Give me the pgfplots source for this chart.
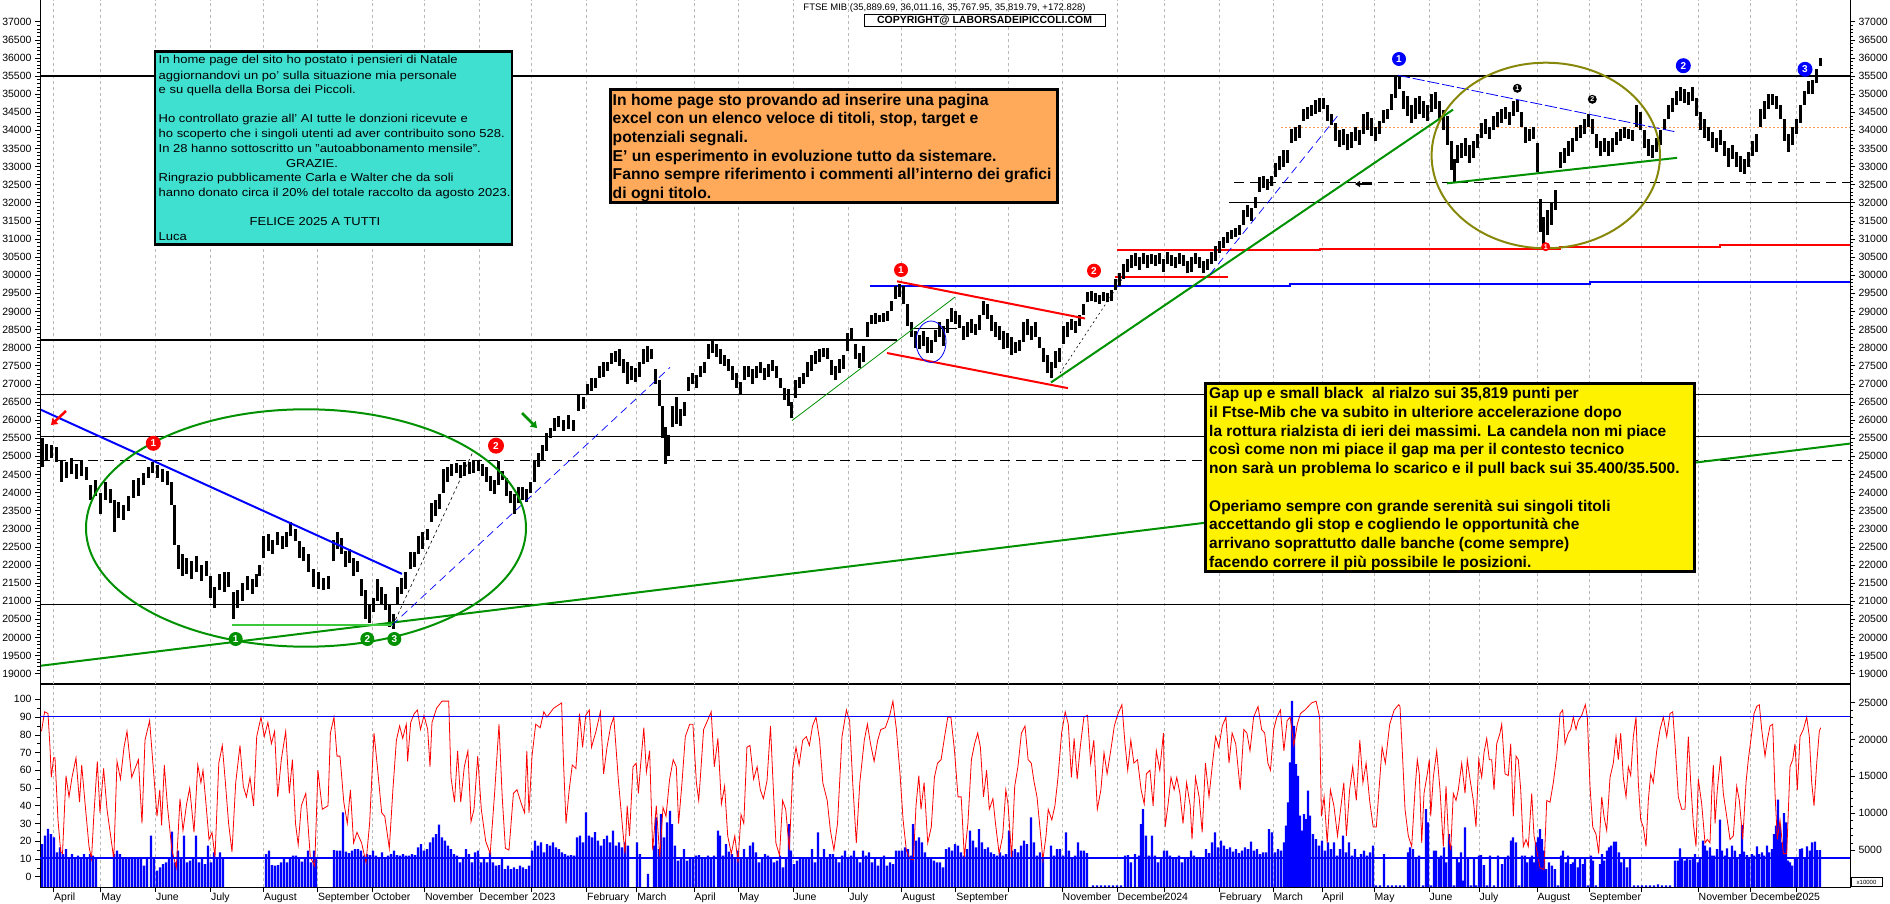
\documentclass[border=0pt]{standalone}
\usepackage{graphicx}
\usepackage{pgfplots}
\pgfplotsset{compat=1.18}
\usepackage{pgfplotstable}
\usetikzlibrary{arrows.meta}
\usepackage{fontspec}
\setmainfont{Liberation Sans}
\definecolor{cyanbox}{RGB}{64,224,208}
\definecolor{orangebox}{RGB}{255,170,90}
\definecolor{gline}{RGB}{0,145,0}
\definecolor{lgline}{RGB}{60,200,60}
\definecolor{olivec}{RGB}{135,135,10}
\definecolor{gridc}{RGB}{185,185,185}
\definecolor{orgdot}{RGB}{245,160,90}

\pgfplotstableread{
x lo hi
42 24700 25500
46 24900 25350
51 24950 25300
56 24850 25250
61 24300 24900
66 24400 24850
71 24500 24950
76 24380 24800
81 24450 24900
86 24350 24700
90 23800 24200
95 23900 24350
100 23400 24000
105 23800 24300
110 23700 24100
114 22900 23800
118 23300 23750
123 23250 23650
128 23500 23900
133 23850 24350
138 23900 24400
143 24200 24550
148 24400 24700
152 24550 24850
157 24400 24750
162 24300 24650
167 24200 24600
171 23650 24300
174 22550 23650
178 21900 22550
182 21700 22300
186 21750 22200
191 21600 22100
196 21800 22250
201 21550 22000
206 21700 22100
210 21100 21700
214 20800 21400
219 21300 21750
224 21250 21800
228 21400 21800
233 20500 21250
237 20800 21300
242 21000 21500
247 21300 21700
252 21200 21600
256 21400 21750
259 21700 22000
263 22200 22800
268 22400 22850
272 22300 22700
277 22550 22900
282 22450 22800
286 22500 22900
290 22800 23180
295 22650 23000
299 22200 22650
303 22100 22500
308 21800 22300
313 21400 21900
318 21350 21800
323 21300 21650
328 21350 21700
333 22100 22700
337 22450 22900
341 22300 22750
345 21950 22400
349 22050 22450
353 21700 22200
357 21800 22100
361 21150 21600
365 20500 21300
369 20400 20900
373 20700 21100
377 21000 21600
381 20900 21400
385 20750 21200
389 20300 20900
393 20230 20650
397 20900 21400
401 21200 21650
405 21350 21800
410 21900 22350
414 21950 22350
418 22300 22800
422 22450 22900
427 22700 23000
431 23200 23700
435 23350 23800
439 23550 23950
443 24000 24650
447 24300 24700
451 24450 24800
456 24550 24820
460 24400 24750
464 24450 24850
469 24500 24830
473 24550 24880
478 24600 24900
482 24450 24800
486 24300 24700
490 24050 24450
494 23950 24350
498 24200 24880
502 24350 24600
506 23900 24400
510 23700 24050
514 23420 23950
518 23700 24150
522 23800 24150
526 23750 24100
530 24000 24300
534 24300 24900
538 24700 25100
542 24900 25300
546 25150 25650
550 25500 25780
554 25700 26050
558 25800 26100
563 25700 26000
568 25750 26150
573 25700 26000
578 26250 26700
583 26300 26650
587 26700 27000
591 26800 27150
595 26900 27150
599 27150 27500
603 27200 27600
607 27350 27600
611 27550 27850
615 27600 27900
619 27500 27950
623 27300 27700
627 27000 27600
631 27100 27500
635 27050 27450
639 27200 27600
643 27550 27950
647 27600 28050
651 27700 27950
655 27000 27400
659 26400 27100
662 25500 26400
665 24800 25800
668 25000 25600
672 25800 26400
676 25900 26650
680 25850 26300
684 26100 26500
688 26800 27200
692 27000 27300
696 26900 27250
700 27200 27500
704 27300 27600
708 27700 28100
712 27850 28180
716 27750 28100
720 27550 27950
724 27500 27800
728 27350 27700
732 27100 27500
736 26900 27300
740 26700 27050
744 27100 27500
748 27200 27500
752 27000 27400
756 27150 27500
760 27300 27600
764 27100 27450
768 27200 27550
772 27350 27650
776 27150 27500
780 26900 27150
784 26550 26900
788 26400 26850
791 26050 26500
795 26600 27100
799 26900 27200
803 27000 27300
807 27200 27600
811 27350 27800
815 27550 27900
819 27600 27950
823 27750 28000
827 27700 28000
831 27250 27650
835 27100 27500
839 27300 27700
843 27400 27800
847 27900 28400
851 28200 28550
855 27700 28100
859 27450 27850
863 27600 28050
867 28300 28700
871 28650 28900
875 28650 28950
879 28700 28900
883 28700 28950
887 28750 29000
891 29000 29300
895 29350 29700
899 29400 29750
903 29200 29700
907 28600 29200
911 28300 28700
915 28000 28450
919 27950 28350
923 28050 28450
927 27850 28300
931 27860 28200
935 28150 28500
939 28300 28700
943 28050 28600
947 28400 28800
951 28700 29100
955 28650 29000
959 28550 28900
963 28200 28600
967 28300 28700
971 28400 28800
975 28350 28650
979 28500 28900
983 28900 29280
987 28800 29200
991 28450 28900
995 28300 28700
999 28200 28600
1003 27950 28450
1007 28000 28400
1011 27800 28300
1015 27850 28150
1019 27900 28200
1023 28150 28700
1027 28350 28800
1031 28200 28600
1035 28300 28700
1039 28000 28300
1043 27600 28000
1047 27300 27800
1051 27160 27600
1055 27450 27900
1059 27600 28000
1063 28100 28600
1067 28300 28700
1071 28500 28800
1075 28400 28750
1079 28600 28900
1083 28900 29200
1087 29250 29550
1091 29300 29560
1095 29250 29500
1099 29200 29450
1103 29300 29550
1107 29250 29500
1111 29300 29600
1115 29600 29900
1119 29700 30050
1123 29900 30300
1127 30100 30450
1131 30200 30550
1135 30250 30600
1139 30150 30500
1143 30300 30600
1147 30200 30550
1151 30300 30580
1155 30250 30550
1159 30300 30620
1163 30100 30450
1167 30300 30650
1171 30250 30550
1175 30200 30500
1179 30300 30600
1183 30250 30550
1187 30050 30400
1191 30100 30500
1195 30300 30600
1199 30200 30500
1203 30050 30400
1207 30150 30450
1211 30300 30650
1215 30400 30800
1219 30600 30950
1223 30750 31050
1227 30900 31200
1231 31000 31250
1235 31050 31300
1239 31100 31400
1243 31400 31800
1247 31600 31950
1251 31500 31850
1255 31850 32150
1259 32300 32700
1263 32400 32750
1267 32350 32650
1271 32450 32750
1275 32700 33100
1279 32900 33300
1283 33000 33450
1287 33100 33450
1291 33650 34050
1295 33700 34100
1299 33800 34150
1303 34250 34600
1307 34300 34650
1311 34400 34700
1315 34450 34850
1319 34500 34880
1323 34600 34880
1327 34250 34700
1331 34150 34450
1335 33700 34200
1339 33550 34000
1343 33600 34050
1347 33450 33900
1351 33500 33950
1355 33700 34100
1359 33600 34000
1363 33900 34450
1367 34000 34500
1371 33850 34350
1375 33700 34100
1379 33900 34250
1383 34200 34550
1387 34300 34600
1391 34550 35000
1395 34900 35480
1399 35150 35500
1403 34600 35100
1407 34400 34950
1411 34200 34700
1415 34300 34900
1419 34450 34950
1423 34350 34800
1427 34250 34700
1431 34500 35000
1435 34600 35050
1439 34300 34800
1443 34000 34550
1447 33600 34400
1451 32900 33700
1454 32550 33200
1457 33100 33600
1461 33250 33650
1465 33300 33800
1469 33100 33600
1473 33250 33700
1477 33500 33900
1481 33800 34200
1485 33900 34300
1489 33750 34100
1493 34000 34400
1497 34100 34500
1501 34200 34600
1505 34300 34650
1509 34150 34500
1513 34400 34800
1517 34500 34850
1521 34100 34500
1525 33650 34100
1529 33700 34050
1533 33750 34100
1537 32850 33650
1540 31200 32100
1543 30760 31600
1547 31100 31800
1551 31400 32000
1555 31800 32350
1560 32950 33400
1564 33100 33500
1568 33300 33700
1572 33400 33800
1576 33700 34100
1580 33800 34150
1584 33900 34300
1588 34100 34460
1592 33900 34300
1596 33500 33900
1600 33300 33700
1604 33400 33800
1608 33300 33700
1612 33400 33800
1616 33600 33950
1620 33700 34050
1624 33800 34100
1628 33750 34050
1632 33700 34000
1636 34100 34700
1640 34000 34500
1644 33500 34000
1648 33300 33750
1652 33250 33600
1656 33400 33800
1660 33600 34000
1664 34000 34300
1668 34300 34700
1672 34500 34900
1676 34700 35100
1680 34800 35200
1684 34750 35150
1688 34700 35050
1692 34800 35200
1696 34400 34900
1700 34000 34500
1704 33800 34300
1708 33700 34100
1712 33500 33950
1716 33400 33800
1720 33600 34000
1724 33300 33700
1728 33000 33500
1732 33200 33600
1736 33000 33400
1740 32850 33300
1744 32800 33200
1748 33000 33400
1752 33300 33700
1756 33400 33900
1760 34100 34600
1764 34300 34800
1768 34600 35000
1772 34700 35000
1776 34600 34950
1780 34300 34700
1784 33700 34300
1788 33400 33900
1792 33600 34100
1796 33900 34300
1800 34200 34700
1804 34700 35100
1808 35000 35350
1812 35000 35400
1816 35300 35700
1820 35770 36010
}\price

\pgfplotstableread{
x v
41.5 82
44.6 93
48 92
50 73
51.3 56
53.6 67
55 67
58 32
60.7 14
62.5 13
66 57
69 45
72 56
76 67
79.5 42
81.7 63
84.8 43
89 17
91.5 10
93.8 34
97.3 65
100 36
103.6 61
107 38
113.8 10
117 65
120.5 55
124 73
127 82
131.7 56
138.4 66
142 30
145 77
149.6 88
154 56
157 34
159.8 49
161.6 29
164.3 63
167.4 40
171.9 15
176.3 5
180 44
183 26
186.6 41
189.7 50
194 25
197.8 63
200.9 53
203 60
206 41
209 21
212 25
215 11
218.8 64
222.3 74
225.4 53
228.6 30
232 14
235.7 53
240 74
243.3 51
246.4 45
250 56
253.6 40
256.7 79
261 90
264.3 79
267.9 87
271.4 75
274.6 82
277.7 45
281.3 66
285.7 82
289.3 47
292.4 66
295.5 30
298.2 18
301.3 40
305.8 47
310.3 11
314.7 6
317.9 60
322.3 38
328 40
330.4 81
334 90
337 68
340 68
343.8 42
347.3 30
350.4 49
353.6 19
357 25
361.6 19
366 8
369.6 30
374 81
377.2 63
381.7 36
384.8 34
389.3 16
392.9 49
396.4 77
399.6 85
402.7 78
406.3 86
407.6 65
410.7 87
414.3 92
417.4 94
420.5 83
424 91
427.7 83
430 62
432 87
436.6 95
442 99
448.7 99
451 56
454.5 42
457.6 71
460.7 42
464.3 62
467.9 71
471 31
474 38
477.7 68
481.3 38
485.7 20
490.2 13
494.6 47
499 86
502.2 45
505.4 16
509 15
513.4 47
517 49
521.4 41
524.6 36
526.8 71
529 36
532 68
535.7 86
540.2 84
543.8 93
546.9 90
553.6 95
561.6 98
563.4 66
566 30
569.2 49
572.3 63
575.9 61
579.5 92
582.6 73
585.7 91
589.3 94
591.5 73
596 82
600.4 93
603.6 58
607 73
610.7 85
613.8 90
618.3 55
622.8 26
625 13
627.2 40
629.5 23
633 62
636.2 64
638.4 47
640.6 63
643.8 84
646.4 59
649.6 71
652.7 15
656.3 40
659.8 11
663 39
666 34
669.6 55
673.2 66
676.3 62
678.6 30
682 53
685.3 79
689.7 86
692.9 86
696.4 53
698.7 43
700 53
703.6 83
706.7 87
711.2 93
714.3 62
717.9 78
721.4 41
724.6 51
727.7 23
731.3 13
734.8 23
738 8
741 35
743.8 30
746.9 73
750 74
753.6 55
757.1 62
760.3 49
763.4 44
767 54
770.5 85
772.8 56
775.9 19
779.5 12
782.6 43
785.7 38
789.3 15
792.9 62
796 73
799.1 63
802.7 77
806.3 79
809.4 74
812.5 85
816 90
819.6 77
822.8 53
827.2 43
830.4 26
833.9 15
837.5 30
842 79
846.4 94
849.6 88
852.7 53
856.3 19
859.8 53
864.3 77
867.4 86
870.5 75
874.1 65
877.7 77
880.8 83
885.3 84
889.7 91
892.9 99
896.4 83
900 58
903.1 32
906.3 15
909.8 10
913.4 9.5
916 40
918.8 57
921 38
924.1 53
927.7 19
931.3 28
934.4 56
937.5 64
941.1 66
944.6 79
947.8 90
950.9 90
954.5 71
958 45
961.2 45
964.3 11
967.9 30
971.4 66
974.6 75
977.7 81
980.4 73
983.5 45
986.6 60
989.3 38
992.9 44
995.5 30
999.1 13
1002.7 23
1005.8 49
1008 41
1011.6 11
1014.7 51
1017.9 62
1021.4 81
1025 85
1028.1 66
1031.3 64
1033.9 54
1037 45
1040.2 26
1042.9 9.5
1046 23
1048.2 38
1051.8 32
1054.9 40
1058 56
1061.6 81
1065.2 93
1068.3 86
1071.4 56
1074.1 78
1077.2 55
1080.4 74
1083.9 90
1087.5 91
1090.6 64
1093.8 77
1097.3 38
1100.9 49
1104 70
1107.1 58
1110.7 71
1114.3 85
1117.4 91
1121.9 97
1125 75
1127.7 60
1130.8 77
1133.9 64
1137.5 66
1141.1 49
1144.2 41
1146.4 58
1150 60
1153.1 40
1156.3 71
1159.8 60
1163.4 81
1165.2 28
1167.9 40
1171 56
1174.1 49
1176.8 56
1179.9 47
1183 30
1186.6 53
1190.2 40
1192 21
1195.5 56
1199.1 45
1202.2 25
1205.4 64
1209 45
1212.5 64
1215.6 79
1218.8 73
1222.3 85
1225.9 90
1229 64
1232.1 81
1235.7 75
1240.2 49
1243.8 83
1246.9 81
1250 71
1253.6 90
1258 96
1261.6 83
1264.7 81
1267.9 64
1270.5 60
1273.7 83
1276.8 90
1280.4 94
1283.9 71
1287.1 88
1290.2 90
1293.8 74
1297.3 86
1300.4 92
1304.9 94
1311.6 98
1316.1 99
1319.6 90
1321.4 34
1324.1 45
1327.2 19
1330.4 49
1333.9 40
1337.5 23
1340.6 38
1343.8 53
1346.4 23
1349.6 49
1352.7 62
1356.3 43
1359.8 77
1362.9 53
1366.1 64
1369.6 43
1373.2 28
1376.3 28
1379.5 53
1382.1 73
1385.3 64
1389.7 86
1394.2 94
1398.7 97
1400 96
1402.7 66
1405 38
1408.3 23
1411.7 17
1415 49
1417.3 66
1419.3 58
1421.7 19
1424 47
1427.3 58
1429.3 66
1430.7 34
1433.3 56
1436.7 71
1440 49
1443.3 17
1446 51
1448.3 24
1450.7 15
1453.3 47
1456 43
1458.3 49
1461.7 64
1465 47
1467.3 66
1470 55
1473.3 43
1476 28
1478.7 66
1481.7 56
1484 70
1486.7 78
1489.3 66
1491.7 66
1494 49
1496.7 75
1500 81
1501.7 86
1505 58
1508.3 57
1510.7 75
1513.3 34
1516 68
1518.3 66
1520.7 49
1523.3 17
1526 21
1528.3 17
1531.7 47
1534 23
1536.7 15
1540 5
1544 4
1546.7 43
1550 42
1553.3 53
1556.7 68
1560 92
1562.7 94
1565 75
1568.3 81
1570.7 83
1573.3 90
1576 83
1578.3 88
1581.7 91
1585.3 97
1587.3 90
1590 51
1592.7 28
1596 24
1598.7 13
1601.7 45
1604 34
1606.7 26
1610 56
1613.3 64
1616 79
1618.3 66
1620.7 81
1623.3 56
1626 45
1628.3 62
1630.7 57
1633.3 79
1636 90
1638.3 53
1640.7 32
1643.3 28
1646 17
1648.3 43
1650.7 58
1653.3 53
1656.7 71
1660 83
1663.3 90
1666.7 79
1670 92
1672.7 93
1675 75
1678.3 45
1681.7 38
1685 38
1688.3 79
1690.7 53
1693.3 30
1696 17
1698.3 55
1701.7 41
1705 19
1707.3 21
1710 19
1711.7 47
1713.3 63
1715 30
1717.3 49
1720.7 68
1723.3 47
1726.7 34
1730 21
1733.3 23
1736.7 51
1739.3 43
1742.7 21
1746 53
1748.3 66
1751.7 81
1754 92
1756.7 96
1759.3 97
1761.7 83
1765 68
1767.3 77
1770 85
1772.7 86
1775 47
1777.3 21
1780 32
1783.3 13
1786.7 13
1790 62
1792.7 66
1795 75
1797.3 49
1800 79
1803.3 83
1806.7 90
1809.3 79
1811.7 53
1814 40
1816.7 64
1819.3 82
1820.7 84
}\rsi

\pgfplotstableread{
x v
42 5850
45 7000
48 7900
51 7200
54 6750
57 4720
60 5400
63 4500
66 5170
69 4050
72 4500
75 3820
78 4270
81 3820
84 4500
87 3820
90 4500
93 4270
96 3820
114 4500
117 4950
120 4500
123 3820
126 4050
129 3820
132 4050
135 3820
138 4050
141 3820
144 2920
147 3820
151 7000
154 3820
157 2250
160 2700
163 3150
166 3370
169 3820
172 7520
175 3370
178 4950
181 3820
184 7000
187 3370
190 3600
193 3820
196 7000
199 3370
202 3820
205 3150
208 5620
211 3370
214 4720
217 4050
220 4720
223 3820
266 4500
269 4950
272 3010
275 2920
278 3010
281 3370
284 3820
287 3370
290 4050
293 4270
296 4270
299 3820
302 3460
305 3820
308 4950
311 3370
314 4950
316 4050
334 5040
337 4950
340 4950
343 10130
346 4810
349 4630
352 4950
355 5170
358 5170
361 4950
364 4270
367 4500
370 4360
373 4950
376 4270
379 4050
382 4720
385 3820
388 4270
391 4500
394 4950
397 4360
400 4270
403 4500
406 4270
409 4270
412 4500
415 4360
418 5400
421 5850
424 4950
427 5170
430 6070
433 6750
436 7200
439 8460
442 6750
445 6300
448 5620
451 5170
454 4500
457 4270
460 3370
463 4050
466 5170
469 4500
472 3370
475 4720
478 4950
481 3370
484 4050
487 3370
490 4720
493 3370
496 2920
499 3010
502 3820
505 2470
508 2920
511 2470
514 2700
517 2470
520 2920
523 2700
526 2470
529 2920
532 4950
535 6300
538 5620
541 6070
544 4720
547 5850
550 5620
553 6070
556 5400
559 5170
562 4720
565 4500
568 4270
571 4360
574 4270
577 6750
580 7000
583 6070
586 10130
589 7000
592 6750
595 7450
598 6300
601 5620
604 6520
607 7000
610 6070
613 7650
616 5620
619 6070
622 5400
625 6070
628 5620
637 6070
640 4500
648 1800
654 5620
656 9450
659 5170
661 9900
664 6750
667 8780
670 10350
672 8550
675 5620
678 3600
681 4050
684 5170
687 3600
690 4050
693 3910
696 4270
699 4360
702 3820
705 4050
708 4270
711 4050
714 4270
718 7650
720 7000
723 4270
726 5850
729 4810
732 4500
735 3820
738 4950
741 4050
744 5170
747 3820
750 5620
753 6070
756 4720
759 3370
762 3820
765 4500
768 4270
771 4050
774 3370
777 3600
780 4270
783 2700
786 3820
789 8550
791 4950
794 3150
797 3600
800 3820
803 4050
806 3910
809 4050
812 5170
815 3370
818 7430
821 4050
824 5170
827 4050
830 4500
833 4500
836 3820
839 3370
842 4270
845 4950
848 3820
851 4270
854 4950
857 3820
860 3370
863 4950
866 4270
869 4720
872 3370
875 3820
878 2920
881 3820
884 4270
887 2920
890 3370
893 3150
896 4950
899 4950
902 4950
905 5400
908 5170
911 4270
913 8550
916 6300
919 6750
922 6070
925 4720
928 3820
931 3820
934 3600
937 3370
940 3370
943 2700
946 5170
949 5400
952 4950
955 5850
958 5620
961 4720
964 4270
967 5170
970 7650
973 6300
976 5400
979 7880
982 6070
985 5170
988 5400
991 4720
994 4500
997 4270
1000 4720
1003 4270
1006 4500
1009 7650
1012 4950
1015 5170
1018 4720
1021 5620
1024 6300
1027 5850
1031 9450
1034 6070
1037 4270
1040 4720
1043 3820
1051 5620
1054 4270
1057 5170
1060 5170
1063 4270
1066 7430
1069 4950
1072 4050
1075 4270
1078 6070
1081 4950
1084 4950
1087 4630
1093 250
1097 250
1101 250
1105 250
1109 250
1113 250
1117 250
1121 250
1125 4270
1128 4360
1131 3370
1135 4500
1139 4270
1141 8550
1143 10580
1146 7000
1149 4270
1152 7000
1155 4270
1158 3370
1161 3820
1164 4950
1167 4950
1170 4270
1173 4050
1176 3820
1179 4270
1182 3370
1185 3820
1188 4050
1191 4950
1194 4270
1197 3820
1200 4050
1203 3820
1206 5170
1209 4630
1212 6070
1215 7430
1218 5400
1221 6300
1224 5620
1227 5170
1230 5400
1233 4810
1236 5170
1239 4630
1242 4950
1245 5400
1248 5170
1251 6160
1254 4950
1257 5170
1260 4500
1263 4720
1266 4720
1269 7880
1272 7430
1275 4720
1278 5170
1281 4950
1284 6070
1286 8330
1288 11480
1290 16880
1292 25220
1294 21840
1296 16660
1298 15080
1300 9680
1302 7650
1304 9900
1306 9220
1308 13060
1310 9680
1313 7200
1316 6520
1319 5620
1322 6300
1325 4950
1328 6070
1331 5170
1334 6070
1337 4270
1340 5170
1343 7000
1346 4720
1349 6070
1352 4270
1355 5170
1358 3820
1361 4500
1364 4950
1367 4270
1370 4720
1373 5620
1376 250
1380 250
1384 4500
1388 250
1392 250
1396 250
1400 250
1404 250
1408 4720
1410 5400
1413 5170
1416 3820
1419 4270
1423 250
1426 10580
1428 8780
1431 250
1434 4950
1436 4950
1439 3820
1441 4270
1444 5400
1446 3370
1449 7200
1451 5620
1454 250
1457 3820
1459 3370
1461 4720
1463 900
1465 8110
1468 4050
1471 250
1474 4050
1476 250
1479 4270
1481 4360
1484 3010
1487 250
1490 4270
1494 250
1498 4270
1502 3150
1505 4050
1508 4270
1511 6300
1513 6750
1516 6070
1519 250
1522 4270
1525 4270
1527 3370
1530 4050
1532 4270
1534 3370
1536 6070
1538 6750
1540 7880
1542 6520
1544 4950
1546 2470
1549 3370
1552 2920
1555 2470
1558 250
1561 4270
1563 4950
1566 3370
1568 4270
1571 3150
1573 3370
1575 4050
1578 2700
1580 4050
1583 3150
1585 3820
1588 250
1591 4270
1593 3600
1596 250
1600 3150
1602 4500
1604 3600
1607 4950
1609 5400
1611 5620
1614 6160
1616 6160
1619 4720
1621 3370
1624 3820
1627 2700
1630 4050
1634 250
1638 250
1642 250
1646 250
1650 250
1654 250
1658 400
1662 250
1666 250
1670 250
1675 3600
1678 3600
1680 5260
1682 3820
1685 3600
1687 3820
1690 3730
1693 4050
1695 4500
1698 3370
1700 3820
1703 6300
1705 5620
1707 4950
1710 5400
1712 4270
1714 4270
1717 5170
1720 9140
1722 4950
1725 4270
1727 5260
1730 3820
1732 5620
1735 4950
1737 3820
1740 4500
1742 8420
1744 4810
1747 4360
1749 4050
1752 4500
1754 4270
1757 5530
1759 4500
1762 4720
1764 4270
1767 5620
1769 4720
1772 5170
1774 7200
1776 8330
1778 11840
1780 8550
1782 6070
1784 10040
1786 8780
1788 3600
1790 3370
1792 2920
1795 3820
1797 3910
1800 5170
1802 5260
1805 3820
1807 5530
1810 4950
1812 6070
1815 6160
1817 5040
1820 5040
}\vol

\pgfplotsset{
  every axis/.append style={
    scale only axis, anchor=south west,
    xmin=40, xmax=1850,
    tick align=outside,
    major tick length=5pt, minor tick length=3pt,
    tick style={black, line width=0.6pt},
    tick label style={font=\fontsize{10.5}{12}\selectfont},
    scaled x ticks=false, scaled y ticks=false,
    /pgf/number format/assume math mode=true,
    /pgf/number format/1000 sep={},
  },
}
\def\monthticks{53.5,100.7,155.3,210.3,263.3,317.3,372.3,424.3,479,531.5,586.5,636.7,694,738.7,793,848.7,901.7,955.7,1008,1062,1117,1164,1219,1273,1322,1374,1429,1479,1537,1589,1641,1698,1750,1796}

\newcommand\cl[3]{\node[anchor=base west,inner sep=0pt,font=\fontsize{11.5}{13}\selectfont] at (#1,{903-#2}) {\scalebox{1.13}[1]{#3}};}
\newcommand\ol[2]{\node[anchor=base west,inner sep=0pt,font=\bfseries\fontsize{15.7}{17}\selectfont] at (612.5,{903-#1}) {#2};}
\newcommand\yl[2]{\node[anchor=base west,inner sep=0pt,font=\bfseries\fontsize{15.5}{17}\selectfont] at (1209,{903-#1}) {#2};}
\newcommand\mkn[6]{\node[circle,fill=#3,inner sep=0pt,minimum size=#4pt,text=white,font=\bfseries\fontsize{#5}{#5}\selectfont] at (#1,{903-#2}) {#6};}

\begin{document}
\begin{tikzpicture}

% ---------- lower panel: volume (right axis) ----------
\begin{axis}[at={(40pt,15.7pt)}, width=1810pt, height=203pt,
  ymin=0, ymax=27450,
  axis line style={line width=1pt},
  xtick/.expanded={\monthticks},
  xtick pos=bottom,
  xticklabels={April,May,June,July,August,September,October,November,December,2023,February,March,April,May,June,July,August,September,,November,December,2024,February,March,April,May,June,July,August,September,,November,December,2025},
  xticklabel style={anchor=base west, inner sep=0pt, xshift=0.5pt, yshift=-8pt},
  minor x tick num=9,
  xmajorgrids, major x grid style={gridc, dash pattern=on 3pt off 3pt, line width=0.7pt},
  ytick={5000,10000,15000,20000,25000}, minor y tick num=4,
  ytick pos=right, yticklabel pos=right,
]
\addplot[ybar, bar width=2.2, fill=blue, draw=none, forget plot] table[x=x,y=v] {\vol};
\end{axis}

% ---------- lower panel: oscillator (left axis) ----------
\begin{axis}[at={(40pt,15.7pt)}, width=1810pt, height=203pt,
  ymin=-6, ymax=108.5,
  axis line style={line width=1pt},
  xtick=\empty,
  ytick={0,10,...,100}, minor y tick num=1,
  ytick pos=left, yticklabel pos=left,
]
\addplot[red, line width=0.8pt, mark=none] table[x=x,y=v] {\rsi};
\addplot[blue, line width=1.3pt] coordinates {(40,90.5)(1850,90.5)};
\addplot[blue, line width=1.3pt] coordinates {(40,10.5)(1850,10.5)};
\end{axis}
\draw[black, line width=1.8pt] (40pt,218.7pt) -- (1850pt,218.7pt);

% ---------- main price panel ----------
\begin{axis}[at={(40pt,218.7pt)}, width=1810pt, height=684.3pt,
  ymin=18706, ymax=37599,
  separate axis lines,
  x axis line style={draw=none},
  y axis line style={line width=1pt},
  xtick/.expanded={\monthticks}, xticklabels={}, xtick style={draw=none},
  xmajorgrids, major x grid style={gridc, dash pattern=on 3pt off 3pt, line width=0.7pt},
  ytick={19000,19500,...,37000}, minor y tick num=4,
  ytick pos=left, yticklabel pos=left,
]
% horizontal levels
\addplot[black, line width=2pt] coordinates {(40,35500)(1850,35500)};
\addplot[black, line width=2pt] coordinates {(40,28200)(897,28200)};
\addplot[black, line width=0.9pt] coordinates {(40,26700)(1850,26700)};
\addplot[black, line width=0.9pt] coordinates {(40,25550)(1850,25550)};
\addplot[black, line width=0.9pt, dash pattern=on 10pt off 6pt] coordinates {(40,24900)(1850,24900)};
\addplot[black, line width=0.9pt] coordinates {(40,20900)(1850,20900)};
\addplot[black, line width=0.9pt, dash pattern=on 10pt off 6pt] coordinates {(1234,32550)(1850,32550)};
\addplot[black, line width=0.9pt] coordinates {(1229,32000)(1850,32000)};
\addplot[red, line width=2pt] coordinates {(1117,30690)(1320,30690)(1320,30735)(1560,30735)(1560,30790)(1720,30790)(1720,30840)(1850,30840)};
\addplot[red, line width=2pt] coordinates {(1115,29960)(1228,29960)};
\addplot[blue, line width=2pt] coordinates {(870,29700)(1290,29700)(1290,29765)(1590,29765)(1590,29800)(1850,29800)};
\addplot[orgdot, line width=0.8pt, dash pattern=on 2pt off 2pt] coordinates {(1281,34073)(1850,34073)};
\addplot[black, line width=0.8pt] coordinates {(910,28527)(957,28527)};
% price bars (low to high)
\addplot[draw=none, mark=none, forget plot,
  error bars/.cd, y dir=plus, y explicit, error mark=none,
  error bar style={line width=3pt, draw=black, solid}]
  table[x=x, y=lo, y error expr=\thisrow{hi}-\thisrow{lo}] {\price};
% trend lines
\addplot[blue, line width=2pt] coordinates {(40,26297)(402,21754)};
\addplot[gline, line width=2pt] coordinates {(40,19216)(1850,25352)};
\addplot[lgline, line width=1.6pt] coordinates {(232,20340)(393,20340)};
\addplot[blue, line width=0.7pt, dash pattern=on 8pt off 5pt] coordinates {(392,20340)(670,27456)};
\addplot[black, line width=0.6pt, dash pattern=on 3pt off 3pt] coordinates {(393,20340)(473,25128)};
\addplot[gline, line width=0.8pt] coordinates {(792,25987)(955,29397)};
\addplot[red, line width=2pt] coordinates {(897,29832)(1085,28806)};
\addplot[red, line width=2pt] coordinates {(887,27852)(1068,26882)};
\addplot[black, line width=0.6pt, dash pattern=on 2pt off 3pt] coordinates {(1060,27298)(1123,29931)};
\addplot[gline, line width=2pt] coordinates {(1051,27040)(1453,34572)};
\addplot[blue, line width=0.7pt, dash pattern=on 8pt off 5pt] coordinates {(1210,30025)(1338,34414)};
\addplot[blue, line width=0.8pt, dash pattern=on 12pt off 3pt] coordinates {(1398,35520)(1677,33951)};
\addplot[gline, line width=2pt] coordinates {(1447,32537)(1677,33241)};
\end{axis}

% right-hand price labels
\begin{axis}[at={(40pt,218.7pt)}, width=1810pt, height=684.3pt,
  ymin=18706, ymax=37599,
  separate axis lines,
  x axis line style={draw=none},
  y axis line style={line width=1pt},
  xtick=\empty,
  ytick={19000,19500,...,37000}, minor y tick num=4,
  ytick pos=right, yticklabel pos=right,
]
\end{axis}

\begin{scope}[x=1pt,y=1pt]
% ellipses
\draw[gline, line width=2pt] (306,375) ellipse [x radius=220pt, y radius=118.7pt];
\draw[olivec, line width=2pt] (1545.8,747.5) ellipse [x radius=114.2pt, y radius=92.8pt];
\draw[blue, line width=0.8pt] (931,561.3) ellipse [x radius=15pt, y radius=20.7pt];

% arrows
\draw[red, line width=2.5pt, -{Triangle[length=6pt,width=8pt]}] (66,492) -- (51,478);
\draw[gline, line width=2.5pt, -{Triangle[length=6pt,width=8pt]}] (522,490) -- (537,475);
\draw[black, line width=1.5pt, -{Triangle[length=5pt,width=6pt]}] (1372,719) -- (1355,719);

% numbered markers
\mkn{153.3}{443.3}{red}{15}{10}{1}
\mkn{496}{445.7}{red}{16}{10}{2}
\mkn{901}{270}{red}{14}{10}{1}
\mkn{1094}{270.7}{red}{14}{10}{2}
\mkn{1545.7}{246.7}{red}{9}{7}{1}
\mkn{235.7}{639}{gline}{14}{10}{1}
\mkn{367.3}{639}{gline}{14}{10}{2}
\mkn{394.3}{639}{gline}{14}{10}{3}
\mkn{1399}{59}{blue}{14}{10}{1}
\mkn{1683.3}{65.7}{blue}{15}{10}{2}
\mkn{1805}{69.3}{blue}{15}{10}{3}
\mkn{1517.3}{88.3}{black}{9}{7}{1}
\mkn{1592.3}{99.3}{black}{9}{7}{2}

% title and copyright
\node[font=\fontsize{9.5}{11}\selectfont, inner sep=0pt] at (944.5,894.7) {FTSE MIB (35,889.69, 36,011.16, 35,767.95, 35,819.79, +172.828)};
\draw[black, fill=white, line width=0.8pt] (864,889) rectangle (1105,876.3);
\node[font=\bfseries\fontsize{10.5}{12}\selectfont, inner sep=0pt] at (984.5,882.6) {COPYRIGHT@ LABORSADEIPICCOLI.COM};

% cyan box
\draw[black, fill=cyanbox, line width=2.5pt] (155,851.3) rectangle (512,658.7);
\cl{158.5}{64}{In home page del sito ho postato i pensieri di Natale}
\cl{158.5}{79.3}{aggiornandovi un po' sulla situazione mia personale}
\cl{158.5}{93.3}{e su quella della Borsa dei Piccoli.}
\cl{158.5}{122.3}{Ho controllato grazie all' AI tutte le donzioni ricevute e}
\cl{158.5}{137.3}{ho scoperto che i singoli utenti ad aver contribuito sono 528.}
\cl{158.5}{153}{In 28 hanno sottoscritto un "autoabbonamento mensile".}
\node[anchor=base,inner sep=0pt,font=\fontsize{11.5}{13}\selectfont] at (312,{903-167.3}) {\scalebox{1.13}[1]{GRAZIE.}};
\cl{158.5}{181.7}{Ringrazio pubblicamente Carla e Walter che da soli}
\cl{158.5}{196.3}{hanno donato circa il 20\% del totale raccolto da agosto 2023.}
\node[anchor=base,inner sep=0pt,font=\fontsize{11.5}{13}\selectfont] at (315,{903-225.7}) {\scalebox{1.13}[1]{FELICE 2025 A TUTTI}};
\cl{158.5}{240.7}{Luca}

% orange box
\draw[black, fill=orangebox, line width=3pt] (610,813.7) rectangle (1057,700.3);
\ol{105.5}{In home page sto provando ad inserire una pagina}
\ol{123.8}{excel con un elenco veloce di titoli, stop, target e}
\ol{142.2}{potenziali segnali.}
\ol{161.2}{E' un esperimento in evoluzione tutto da sistemare.}
\ol{179.5}{Fanno sempre riferimento i commenti all'interno dei grafici}
\ol{198.8}{di ogni titolo.}

% yellow box
\draw[black, fill=yellow, line width=3pt] (1205,519.7) rectangle (1694,331.3);
\yl{398.2}{Gap up e small black\ \ al rialzo sui 35,819 punti per}
\yl{417.2}{il Ftse-Mib che va subito in ulteriore accelerazione dopo}
\yl{436.2}{la rottura rialzista di ieri dei massimi. La candela non mi piace}
\yl{454.8}{così come non mi piace il gap ma per il contesto tecnico}
\yl{473.8}{non sarà un problema lo scarico e il pull back sui 35.400/35.500.}
\yl{511.2}{Operiamo sempre con grande serenità sui singoli titoli}
\yl{529.8}{accettando gli stop e cogliendo le opportunità che}
\yl{548.8}{arrivano soprattutto dalle banche (come sempre)}
\yl{567.8}{facendo correre il più possibile le posizioni.}

% x10000 box
\draw[black, line width=0.6pt] (1851,25.3) rectangle (1882,16.3);
\node[font=\fontsize{6}{7}\selectfont, inner sep=0pt] at (1866.5,20.8) {x10000};
\end{scope}

\pgfresetboundingbox
\useasboundingbox (0pt,0pt) rectangle (1890pt,903pt);
\end{tikzpicture}
\end{document}
